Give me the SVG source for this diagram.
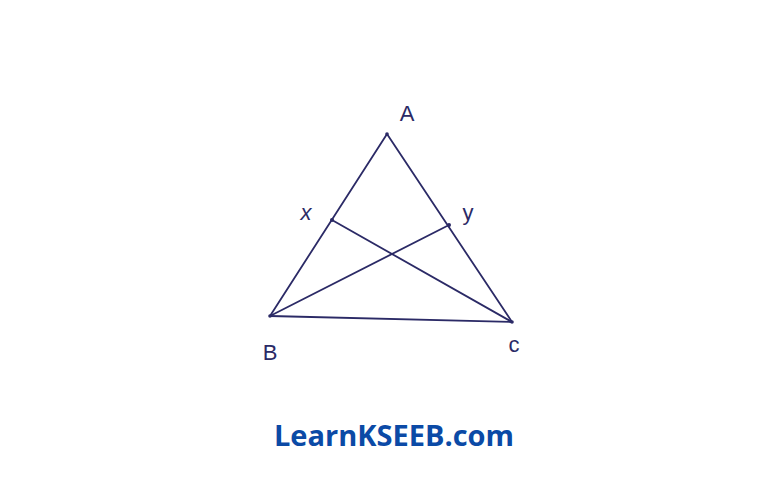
<svg xmlns="http://www.w3.org/2000/svg" width="768" height="485" viewBox="0 0 768 485">
<style>
.ln{stroke:#2b2a66;stroke-width:1.8;fill:none;stroke-linecap:round}
.lb{font-family:"Liberation Sans",Arial,sans-serif;font-size:22px;fill:#2b2a66;text-anchor:middle}
.pt{fill:#2b2a66}
</style>
<rect width="768" height="485" fill="#ffffff"/>
<g id="connectors">
<line class="ln" x1="387" y1="134" x2="270" y2="316"/>
<line class="ln" x1="387" y1="134" x2="512" y2="322"/>
<line class="ln" x1="270" y1="316" x2="512" y2="322"/>
<line class="ln" x1="332" y1="220" x2="512" y2="322"/>
<line class="ln" x1="270" y1="316" x2="449" y2="225"/>
</g>
<g id="A"><circle class="pt" cx="387" cy="134" r="1.8"/><text class="lb" x="407" y="121">A</text></g>
<g id="B"><circle class="pt" cx="270" cy="316" r="1.8"/><text class="lb" x="270" y="360">B</text></g>
<g id="C"><circle class="pt" cx="512" cy="322" r="1.8"/><text class="lb" x="514" y="352">c</text></g>
<g id="X"><circle class="pt" cx="332" cy="220" r="2"/><text class="lb" x="306" y="220" font-style="italic">x</text></g>
<g id="Y"><circle class="pt" cx="449" cy="225" r="2"/><text class="lb" x="468" y="220">y</text></g>
<text x="394" y="446" font-family="'Open Sans','Noto Sans',sans-serif" font-weight="bold" font-size="29" fill="#0b4aa6" text-anchor="middle">LearnKSEEB.com</text>
</svg>
